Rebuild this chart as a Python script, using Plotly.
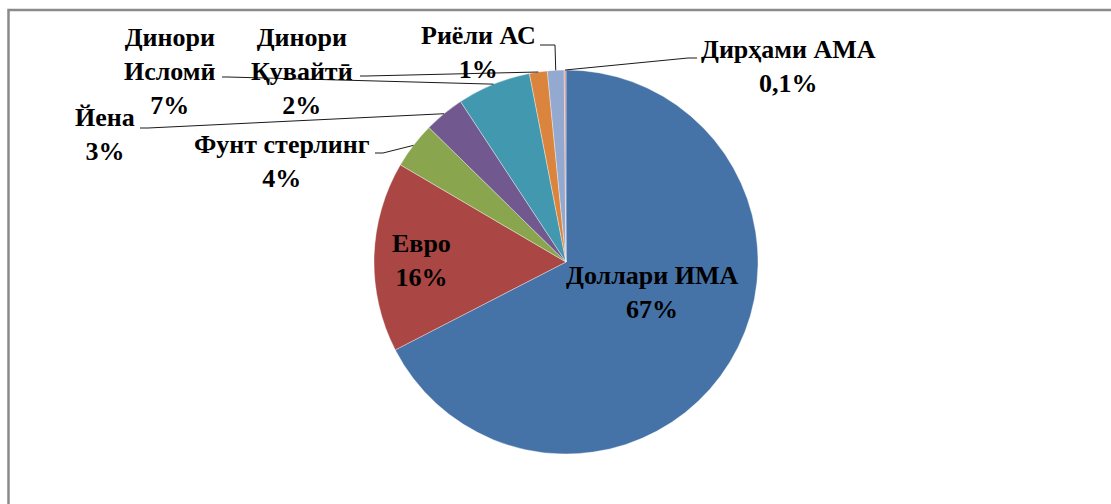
import math
import plotly.graph_objects as go

# ---- data ----
labels = ["Доллари ИМА", "Евро", "Фунт стерлинг", "Йена", "Динори Исломӣ",
          "Динори Қувайтӣ", "Риёли АС", "Дирҳами АМА"]
label_lines = ["Доллари ИМА", "Евро", "Фунт стерлинг", "Йена", "Динори<br>Исломӣ",
               "Динори<br>Қувайтӣ", "Риёли АС", "Дирҳами АМА"]
values = [67.4, 16.0, 3.9, 3.4, 6.2, 1.5, 1.4, 0.15]
pct_text = ["67%", "16%", "4%", "3%", "7%", "2%", "1%", "0,1%"]
colors = ["#4572A7", "#AA4643", "#89A54E", "#71588F", "#4198AF",
          "#DB843D", "#93A9CF", "#D19392"]

# ---- layout (pixels) ----
W, H = 1111, 504
CX, CY, R = 566, 262, 192
# label block centers and leader start points (None = inside label)
label_pos = [(652, 292), (421, 260), (282, 161), (105, 135), (170, 72),
             (302, 72), (478, 53), (788, 67)]
leader_start = [None, None, (375, 153), (140, 128), (222, 77),
                (360, 76), (540, 45), (697, 58)]
leader_dx = [0, 0, 8, 8, 6, 6, 15, -9]

def px(x):
    return x / W

def py(y):
    return 1 - y / H

fig = go.Figure(go.Pie(
    labels=labels, values=values, sort=False, direction="clockwise", rotation=0,
    marker=dict(colors=colors, line=dict(color="rgba(255,255,255,0.6)", width=0.6)),
    textinfo="none", hoverinfo="label+percent", showlegend=False,
    domain=dict(x=[px(CX - R), px(CX + R)], y=[py(CY + R), py(CY - R)]),
))

total = sum(values)
cum = 0.0
shapes = []
annotations = []
font = dict(family="Liberation Serif", size=26, color="#000000")
for i, v in enumerate(values):
    mid = (cum + v / 2) / total * 2 * math.pi
    cum += v
    ex, ey = CX + R * math.sin(mid), CY - R * math.cos(mid)
    lx, ly = label_pos[i]
    annotations.append(dict(
        x=px(lx), y=py(ly), xref="paper", yref="paper", showarrow=False,
        text="<b>" + label_lines[i] + "<br>" + pct_text[i] + "</b>",
        font=font, align="center", xanchor="center", yanchor="middle"))
    if leader_start[i] is not None:
        sx, sy = leader_start[i]
        mx = sx + leader_dx[i]
        path = f"M {px(sx)} {py(sy)} L {px(mx)} {py(sy)} L {px(ex)} {py(ey)}"
        shapes.append(dict(type="path", path=path, xref="paper", yref="paper",
                           line=dict(color="#1a1a1a", width=1)))

# chart border (cut at right and bottom)
shapes.append(dict(type="rect", xref="paper", yref="paper",
                   x0=px(8.5), x1=1.05, y0=-0.05, y1=py(10),
                   line=dict(color="#8a8a8a", width=2.5), layer="below"))

fig.update_layout(
    width=W, height=H, margin=dict(l=0, r=0, t=0, b=0),
    paper_bgcolor="white", plot_bgcolor="white",
    shapes=shapes, annotations=annotations,
)
fig.write_html("out.html", config={"displayModeBar": False},
               post_script="document.body.style.margin='0';")
